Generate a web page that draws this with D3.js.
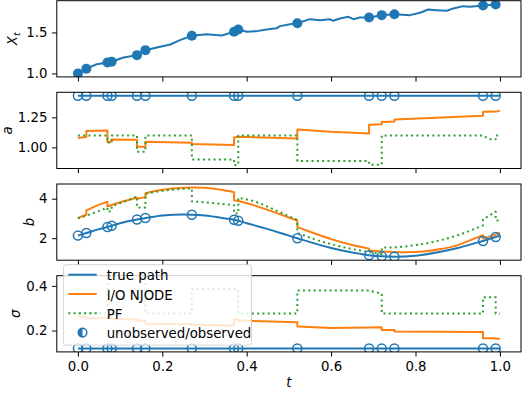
<!DOCTYPE html>
<html>
<head>
<meta charset="utf-8">
<script src="https://cdnjs.cloudflare.com/ajax/libs/d3/7.8.5/d3.min.js"></script>
<style>
body{margin:0;background:#fff}
svg{display:block}
text{font-family:"DejaVu Sans",sans-serif;fill:#000}
</style>
</head>
<body>
<svg id="chart" width="530" height="393"></svg>
<script>
// observation times (same for every panel)
var obsTimes = [0, 0.02, 0.07, 0.08, 0.14, 0.16, 0.27, 0.37, 0.38, 0.52, 0.69, 0.72, 0.75, 0.96, 0.99]

// X_t path and its observed values
var xPath = [[0,1.0],[0.02,1.057],[0.045,1.113],[0.07,1.134],[0.08,1.142],[0.108,1.195],[0.14,1.223],[0.16,1.284],
	[0.187,1.317],[0.219,1.353],[0.242,1.406],[0.27,1.459],[0.305,1.479],[0.341,1.462],[0.37,1.508],[0.38,1.536],
	[0.40,1.508],[0.424,1.516],[0.447,1.536],[0.471,1.552],[0.479,1.577],[0.503,1.601],[0.52,1.613],[0.55,1.662],
	[0.574,1.65],[0.597,1.662],[0.605,1.642],[0.621,1.670],[0.641,1.691],[0.653,1.662],[0.668,1.682],[0.69,1.683],
	[0.72,1.711],[0.75,1.723],[0.787,1.711],[0.811,1.740],[0.83,1.780],[0.85,1.772],[0.874,1.764],[0.89,1.793],
	[0.913,1.821],[0.929,1.813],[0.96,1.829],[0.99,1.841],[1.0,1.845]]
var xObs = [1.0,1.057,1.134,1.142,1.223,1.284,1.459,1.508,1.536,1.613,1.683,1.711,1.723,1.829,1.841]

// parameter a
var aTrue = [[0,1.43],[1,1.43]]
var aObs = [1.43,1.43,1.43,1.43,1.43,1.43,1.43,1.43,1.43,1.43,1.43,1.43,1.43,1.43,1.43]
var aNjode = [[0,1.079],[0.02,1.087],[0.02,1.136],[0.07,1.14],[0.07,1.045],[0.08,1.047],[0.08,1.066],[0.14,1.064],
	[0.14,1.005],[0.16,1.005],[0.16,1.047],[0.27,1.039],[0.27,1.028],[0.37,1.019],[0.37,1.083],[0.38,1.089],
	[0.52,1.075],[0.52,1.15],[0.6,1.13],[0.69,1.115],[0.69,1.189],[0.72,1.192],[0.72,1.211],[0.75,1.215],
	[0.75,1.232],[0.96,1.264],[0.96,1.297],[0.99,1.298],[1.0,1.305]]
var aPF = [[0,1.10],[0.07,1.10],[0.07,1.04],[0.08,1.04],[0.08,1.10],[0.14,1.10],[0.14,0.964],[0.16,0.964],
	[0.16,1.10],[0.27,1.10],[0.27,0.90],[0.37,0.90],[0.37,0.853],[0.38,0.853],[0.38,1.10],[0.52,1.10],
	[0.52,0.886],[0.69,0.886],[0.69,0.856],[0.72,0.856],[0.72,1.10],[0.96,1.10],[0.975,1.067],[0.99,1.067],
	[0.99,1.10],[1.0,1.10]]

// parameter b
var bTrue = [[0,2.13],[0.02,2.26],[0.05,2.46],[0.07,2.57],[0.08,2.63],[0.1,2.76],[0.14,2.95],[0.16,3.02],
	[0.2,3.15],[0.25,3.20],[0.27,3.19],[0.3,3.15],[0.35,3.00],[0.37,2.93],[0.38,2.88],[0.4,2.76],[0.45,2.46],
	[0.5,2.13],[0.52,2.00],[0.55,1.80],[0.6,1.50],[0.65,1.27],[0.69,1.14],[0.72,1.08],[0.75,1.06],[0.8,1.11],
	[0.85,1.27],[0.9,1.50],[0.95,1.80],[0.96,1.86],[0.99,2.06],[1.0,2.13]]
var bObs = [2.13,2.26,2.57,2.63,2.95,3.02,3.19,2.93,2.88,2.00,1.14,1.08,1.06,1.86,2.06]
var bNjode = [[0,3.03],[0.02,3.19],[0.02,3.41],[0.045,3.65],[0.07,3.85],[0.07,3.60],[0.08,3.68],[0.11,3.88],
	[0.14,4.05],[0.14,4.0],[0.16,4.08],[0.16,4.28],[0.2,4.45],[0.25,4.56],[0.27,4.57],[0.3,4.56],[0.34,4.45],
	[0.37,4.33],[0.37,3.92],[0.38,3.88],[0.42,3.65],[0.47,3.28],[0.52,2.89],[0.52,2.56],[0.56,2.25],[0.6,1.95],
	[0.65,1.65],[0.69,1.47],[0.69,1.38],[0.72,1.33],[0.75,1.30],[0.78,1.29],[0.82,1.33],[0.86,1.45],[0.9,1.65],
	[0.93,1.90],[0.96,2.15],[0.96,1.98],[0.99,2.18],[1.0,2.26]]
var bPF = [[0,3.0],[0.04,3.3],[0.07,3.55],[0.07,3.33],[0.08,3.38],[0.08,3.62],[0.11,3.85],[0.14,4.12],
	[0.14,3.55],[0.16,3.55],[0.16,4.25],[0.2,4.4],[0.25,4.5],[0.27,4.52],[0.27,3.87],[0.32,3.78],[0.37,3.67],
	[0.37,3.25],[0.38,3.25],[0.38,4.05],[0.42,3.85],[0.47,3.4],[0.52,2.92],[0.52,2.27],[0.56,1.95],[0.6,1.7],
	[0.65,1.45],[0.69,1.3],[0.72,1.2],[0.72,1.52],[0.76,1.55],[0.8,1.65],[0.85,1.85],[0.9,2.15],[0.96,2.65],
	[0.96,2.95],[0.99,3.35],[0.99,2.9],[1.0,2.9]]

// parameter sigma
var sTrue = [[0,0.12],[1,0.12]]
var sObs = [0.12,0.12,0.12,0.12,0.12,0.12,0.12,0.12,0.12,0.12,0.12,0.12,0.12,0.12,0.12]
var sNjode = [[0,0.262],[0.02,0.262],[0.02,0.255],[0.07,0.256],[0.07,0.26],[0.08,0.258],[0.08,0.252],[0.14,0.250],
	[0.14,0.245],[0.16,0.244],[0.16,0.230],[0.27,0.228],[0.27,0.226],[0.37,0.223],[0.37,0.252],[0.38,0.248],
	[0.38,0.245],[0.52,0.237],[0.52,0.218],[0.6,0.211],[0.69,0.214],[0.72,0.215],[0.72,0.203],[0.75,0.202],
	[0.75,0.196],[0.96,0.193],[0.96,0.166],[0.99,0.166],[0.99,0.163],[1.0,0.163]]
var sPF = [[0,0.276],[0.07,0.276],[0.07,0.43],[0.16,0.43],[0.16,0.276],[0.27,0.276],[0.27,0.385],[0.38,0.385],
	[0.38,0.276],[0.52,0.276],[0.52,0.379],[0.69,0.379],[0.72,0.365],[0.72,0.276],[0.96,0.276],[0.96,0.349],
	[0.99,0.349],[0.99,0.276],[1.0,0.276]]

// tick labels
var xTicks = [0, 0.2, 0.4, 0.6, 0.8, 1.0]
var xTicksY = [1.0, 1.5]
var aTicks = [1.00, 1.25]
var bTicks = [2, 4]
var sTicks = [0.2, 0.4]

var legendLabels = ["true path", "I/O NJODE", "PF", "unobserved/observed"]

var blue = "#1f77b4", orange = "#ff7f0e", green = "#2ca02c"
var fs = 13.3
var left = 56.8, right = 521
var panelTop = [0.7, 92.3, 184, 275.7], panelH = 76.2
var tickLen = 4.7, tickPad = 4.7

var svg = d3.select("#chart")
var x = d3.scaleLinear().domain([-0.05, 1.05]).range([left, right])

var panels = [
	{lines:[{d:xPath,c:blue}], obs:xObs, filled:true, ticks:xTicksY, fmt:".1f", label:"X", sub:"t", gap:9, curve:d3.curveLinear},
	{lines:[{d:aTrue,c:blue},{d:aNjode,c:orange},{d:aPF,c:green,dot:true}], obs:aObs, ticks:aTicks, fmt:".2f", label:"a", gap:6, curve:d3.curveLinear},
	{lines:[{d:bTrue,c:blue},{d:bNjode,c:orange},{d:bPF,c:green,dot:true}], obs:bObs, ticks:bTicks, fmt:"d", label:"b", gap:4.5, curve:d3.curveMonotoneX},
	{lines:[{d:sTrue,c:blue},{d:sNjode,c:orange},{d:sPF,c:green,dot:true}], obs:sObs, ticks:sTicks, fmt:".1f", label:"\u03c3", gap:6, curve:d3.curveLinear}
]

// split a series at its jumps, draw each piece with the curve, join with vertical steps
function pathD(data, y, curve){
	var segs = [], cur = [data[0]]
	for(var i = 1; i < data.length; i++){
		if(data[i][0] === data[i-1][0]){ segs.push(cur); cur = [data[i]] }
		else cur.push(data[i])
	}
	segs.push(cur)
	var gen = d3.line().x(function(d){return x(d[0])}).y(function(d){return y(d[1])}).curve(curve)
	return segs.map(function(s, i){
		var p = gen(s).replace(/Z/g, "")
		return i ? "L" + p.slice(1) : p
	}).join("")
}

panels.forEach(function(p, k){
	var top = panelTop[k], bottom = top + panelH
	var vals = p.obs.slice()
	p.lines.forEach(function(l){ l.d.forEach(function(d){ vals.push(d[1]) }) })
	var ext = d3.extent(vals), pad = (ext[1] - ext[0]) * 0.05
	var y = d3.scaleLinear().domain([ext[0] - pad, ext[1] + pad]).range([bottom, top])

	var g = svg.append("g")
	g.append("clipPath").attr("id", "clip" + k).append("rect")
		.attr("x", left).attr("y", top).attr("width", right - left).attr("height", panelH)
	var plot = g.append("g").attr("clip-path", "url(#clip" + k + ")")

	p.lines.forEach(function(l){
		plot.append("path")
			.attr("d", pathD(l.d, y, p.curve))
			.attr("fill", "none")
			.attr("stroke", l.c)
			.attr("stroke-width", 2)
			.attr("stroke-linejoin", "round")
			.attr("stroke-dasharray", l.dot ? "2,3.3" : null)
	})

	plot.selectAll(".obs")
		.data(obsTimes)
		.enter()
		.append("circle")
		.attr("cx", function(t){ return x(t) })
		.attr("cy", function(t, i){ return y(p.obs[i]) })
		.attr("r", p.filled ? 5 : 4.5)
		.attr("fill", p.filled ? blue : "none")
		.attr("stroke", blue)
		.attr("stroke-width", p.filled ? 0 : 1.5)

	// y axis
	var ya = g.append("g").attr("transform", "translate(" + left + ",0)")
		.call(d3.axisLeft(y).tickValues(p.ticks).tickFormat(d3.format(p.fmt)).tickSize(tickLen).tickPadding(tickPad))
	ya.select(".domain").remove()
	ya.selectAll("line").attr("stroke", "#000").attr("stroke-width", 1)
	ya.selectAll("text").attr("font-size", fs).attr("font-family", "DejaVu Sans")

	// x axis (labels only on the last panel)
	var xa = g.append("g").attr("transform", "translate(0," + bottom + ")")
		.call(d3.axisBottom(x).tickValues(xTicks).tickFormat(d3.format(".1f")).tickSize(tickLen).tickPadding(tickPad))
	xa.select(".domain").remove()
	xa.selectAll("line").attr("stroke", "#000").attr("stroke-width", 1)
	xa.selectAll("text").attr("font-size", fs).attr("font-family", "DejaVu Sans")
	if(k < 3) xa.selectAll("text").remove()

	g.append("rect")
		.attr("x", left).attr("y", top).attr("width", right - left).attr("height", panelH)
		.attr("fill", "none").attr("stroke", "#000").attr("stroke-width", 1)

	// y label, just left of the tick labels
	var tickLeft = left + ya.node().getBBox().x - left
	tickLeft = ya.node().getBBox().x + left
	var lab = g.append("text")
		.attr("transform", "translate(" + (tickLeft - p.gap) + "," + (top + panelH / 2) + ") rotate(-90)")
		.attr("text-anchor", "middle")
		.attr("font-size", fs)
		.attr("font-style", "italic")
	lab.append("tspan").text(p.label)
	if(p.sub) lab.append("tspan").attr("font-size", fs * 0.7).attr("dy", "0.3em").text(p.sub)
})

// x label
svg.append("text")
	.attr("x", (left + right) / 2).attr("y", 387)
	.attr("text-anchor", "middle")
	.attr("font-size", fs)
	.attr("font-style", "italic")
	.text("t")

// legend in lower left of the last panel
var lgW = 188, lgH = 80.5
var lgX = left + 6.7, lgY = panelTop[3] + panelH - 6.7 - lgH
var lg = svg.append("g").attr("transform", "translate(" + lgX + "," + lgY + ")")
lg.append("rect")
	.attr("width", lgW).attr("height", lgH).attr("rx", 2.7)
	.attr("fill", "#fff").attr("fill-opacity", 0.8)
	.attr("stroke", "#ccc").attr("stroke-opacity", 0.8).attr("stroke-width", 1)

var rowY = function(i){ return 11 + i * 19.3 }
var hx0 = 4.8, hx1 = 33.2
legendLabels.forEach(function(name, i){
	var cy = rowY(i)
	if(i < 3){
		lg.append("line")
			.attr("x1", hx0).attr("x2", hx1).attr("y1", cy - 1).attr("y2", cy - 1)
			.attr("stroke", [blue, orange, green][i]).attr("stroke-width", 2)
			.attr("stroke-dasharray", i == 2 ? "2,3.3" : null)
	} else {
		var cx = (hx0 + hx1) / 2, r = 4.3
		lg.append("circle").attr("cx", cx).attr("cy", cy - 1).attr("r", r)
			.attr("fill", "#fff").attr("stroke", blue).attr("stroke-width", 1.5)
		lg.append("path")
			.attr("d", "M" + cx + "," + (cy - 1 - r) + "A" + r + "," + r + " 0 0,0 " + cx + "," + (cy - 1 + r) + "Z")
			.attr("fill", blue)
	}
	lg.append("text")
		.attr("x", 43.2).attr("y", cy + 4.7)
		.attr("font-size", fs)
		.text(name)
})
</script>
</body>
</html>
